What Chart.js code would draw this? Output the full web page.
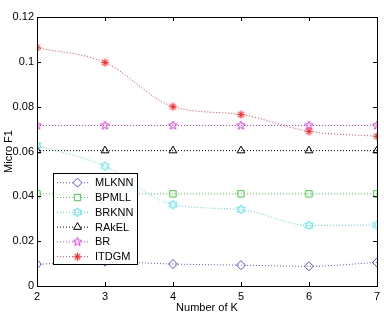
<!DOCTYPE html>
<html>
<head>
<meta charset="utf-8">
<script src="https://cdn.jsdelivr.net/npm/chart.js@4.4.0/dist/chart.umd.min.js"></script>
<style>
html,body{margin:0;padding:0;background:#fff;}
#wrap{width:384px;height:316px;}
</style>
</head>
<body>
<div id="wrap"><canvas id="myChart" width="384" height="316"></canvas></div>
<script>
var kValues = [2, 3, 4, 5, 6, 7];
var mlknn = [0.0097, 0.0108, 0.0098, 0.0093, 0.0088, 0.0105];
var bpmll = [0.0411, 0.0411, 0.0411, 0.0411, 0.0411, 0.0411];
var brknn = [0.0627, 0.0535, 0.0363, 0.0341, 0.0270, 0.0272];
var rakel = [0.0604, 0.0604, 0.0604, 0.0604, 0.0604, 0.0604];
var br = [0.0716, 0.0716, 0.0716, 0.0716, 0.0716, 0.0716];
var itdgm = [0.1063, 0.0997, 0.0800, 0.0765, 0.0690, 0.0668];
var yTicks = [0, 0.02, 0.04, 0.06, 0.08, 0.1, 0.12];
var yTickLabels = ['0', '0.02', '0.04', '0.06', '0.08', '0.1', '0.12'];

var FONT = 'Liberation Sans, Arial, sans-serif';

// 自訂 marker 圖
function makeMarker(kind, color){
    var c = document.createElement('canvas');
    c.width = 11; c.height = 11;
    var g = c.getContext('2d');
    g.strokeStyle = color; g.fillStyle = color; g.lineWidth = 1;
    var cx = 5.5, cy = 5.5;
    if (kind == 'penta'){
        g.beginPath();
        for (var i=0;i<10;i++){
            var r = (i%2==0) ? 4.5 : 2;
            var a = -Math.PI/2 + i*Math.PI/5;
            var px = cx + r*Math.cos(a), py = cy + r*Math.sin(a);
            if (i==0) g.moveTo(px,py); else g.lineTo(px,py);
        }
        g.closePath(); g.stroke();
    } else if (kind == 'hexa'){
        g.beginPath();
        for (var i=0;i<12;i++){
            var r = (i%2==0) ? 4.5 : 2.6;
            var a = -Math.PI/2 + i*Math.PI/6;
            var px = cx + r*Math.cos(a), py = cy + r*Math.sin(a);
            if (i==0) g.moveTo(px,py); else g.lineTo(px,py);
        }
        g.closePath(); g.stroke();
    } else if (kind == 'ast'){
        g.lineWidth = 1.2;
        g.beginPath();
        for (var i=0;i<4;i++){
            var a = i*Math.PI/4;
            g.moveTo(cx-4*Math.cos(a), cy-4*Math.sin(a));
            g.lineTo(cx+4*Math.cos(a), cy+4*Math.sin(a));
        }
        g.stroke();
        g.beginPath(); g.arc(cx,cy,1.6,0,Math.PI*2); g.fill();
    }
    return c;
}

function pts(arr){
    var out = [];
    for (var i=0;i<kValues.length;i++) out.push({x:kValues[i], y:arr[i]});
    return out;
}

function ds(label, arr, color, style, radius){
    return {
        label: label,
        data: pts(arr),
        borderColor: color,
        backgroundColor: 'rgba(0,0,0,0)',
        borderWidth: 1,
        borderDash: [1, 2],
        tension: 0.4,
        cubicInterpolationMode: 'monotone',
        pointStyle: style,
        pointRadius: radius,
        pointBorderColor: color,
        pointBackgroundColor: 'rgba(0,0,0,0)',
        pointBorderWidth: 1
    };
}

var datasets = [
    ds('MLKNN', mlknn, '#5050e0', 'rectRot', 4.5),
    ds('BPMLL', bpmll, '#40d040', 'rect', 4.5),
    ds('BRKNN', brknn, '#40e0e8', makeMarker('hexa', '#40e0e8'), 4.5),
    ds('RAkEL', rakel, '#000000', 'triangle', 4.5),
    ds('BR', br, '#e030e0', makeMarker('penta', '#e030e0'), 4.5),
    ds('ITDGM', itdgm, '#ff3030', makeMarker('ast', '#ff3030'), 4.5)
];

// 內刻度 + 外框 + 圖例
var matlabBox = {
    id: 'matlabBox',
    afterDatasetsDraw: function(chart){
        var c = chart.ctx, a = chart.chartArea;
        var xs = chart.scales.x, ys = chart.scales.y;
        c.save();
        c.strokeStyle = '#000'; c.lineWidth = 1;
        c.beginPath();
        for (var i=0;i<kValues.length;i++){
            var px = Math.round(xs.getPixelForValue(kValues[i])) + 0.5;
            c.moveTo(px, a.bottom); c.lineTo(px, a.bottom-4);
            c.moveTo(px, a.top); c.lineTo(px, a.top+4);
        }
        for (var j=0;j<yTicks.length;j++){
            var py = Math.round(ys.getPixelForValue(yTicks[j])) + 0.5;
            c.moveTo(a.left, py); c.lineTo(a.left+4, py);
            c.moveTo(a.right, py); c.lineTo(a.right-4, py);
        }
        c.stroke();
        c.strokeRect(Math.round(a.left)+0.5, Math.round(a.top)+0.5, Math.round(a.right-a.left), Math.round(a.bottom-a.top));

        // legend
        var lx = 53.5, ly = 173.5, lw = 84, lh = 91;
        c.fillStyle = '#fff';
        c.fillRect(lx, ly, lw, lh);
        c.strokeStyle = '#000';
        c.strokeRect(lx, ly, lw, lh);
        c.font = '11px ' + FONT;
        c.textBaseline = 'middle';
        c.textAlign = 'left';
        for (var k=0;k<chart.data.datasets.length;k++){
            var d = chart.data.datasets[k];
            var yy = 182.7 + k*14.8;
            c.strokeStyle = d.borderColor;
            c.lineWidth = 1;
            c.setLineDash([1, 2]);
            c.beginPath(); c.moveTo(57, yy); c.lineTo(90, yy); c.stroke();
            c.setLineDash([]);
            c.fillStyle = '#fff';
            Chart.helpers.drawPoint(c, {
                pointStyle: d.pointStyle, radius: d.pointRadius, rotation: 0, borderWidth: 1
            }, 77.5, yy);
            c.fillStyle = '#000';
            c.fillText(d.label, 95, yy + 0.5);
        }
        c.restore();
    }
};

var ctx = document.getElementById('myChart').getContext('2d');
var myChart = new Chart(ctx, {
    type: 'line',
    data: { datasets: datasets },
    options: {
        responsive: false,
        animation: false,
        layout: { padding: { top: 17, right: 5, left: 2, bottom: 0 } },
        plugins: { legend: { display: false }, tooltip: { enabled: false } },
        scales: {
            x: {
                type: 'linear',
                min: 2, max: 7,
                grid: { display: false, drawTicks: false },
                border: { display: false },
                afterBuildTicks: function(s){ s.ticks = kValues.map(function(v){ return {value:v}; }); },
                afterFit: function(s){ s.height = 30; },
                ticks: { color: '#000', font: { family: FONT, size: 11 }, padding: 4, maxRotation: 0,
                    callback: function(v){ return String(v); } },
                title: { display: true, text: 'Number of K', color: '#000', font: { family: FONT, size: 11 }, padding: { top: 0, bottom: 1 } }
            },
            y: {
                min: 0, max: 0.12,
                grid: { display: false, drawTicks: false },
                border: { display: false },
                afterBuildTicks: function(s){ s.ticks = yTicks.map(function(v){ return {value:v}; }); },
                afterFit: function(s){ s.width = 35; },
                ticks: { color: '#000', font: { family: FONT, size: 11 }, padding: 3,
                    callback: function(v){ var i = yTicks.indexOf(v); return i >= 0 ? yTickLabels[i] : ''; } },
                title: { display: true, text: 'Micro F1', color: '#000', font: { family: FONT, size: 11 }, padding: { top: 0, bottom: 0 } }
            }
        }
    },
    plugins: [matlabBox]
});
</script>
</body>
</html>
